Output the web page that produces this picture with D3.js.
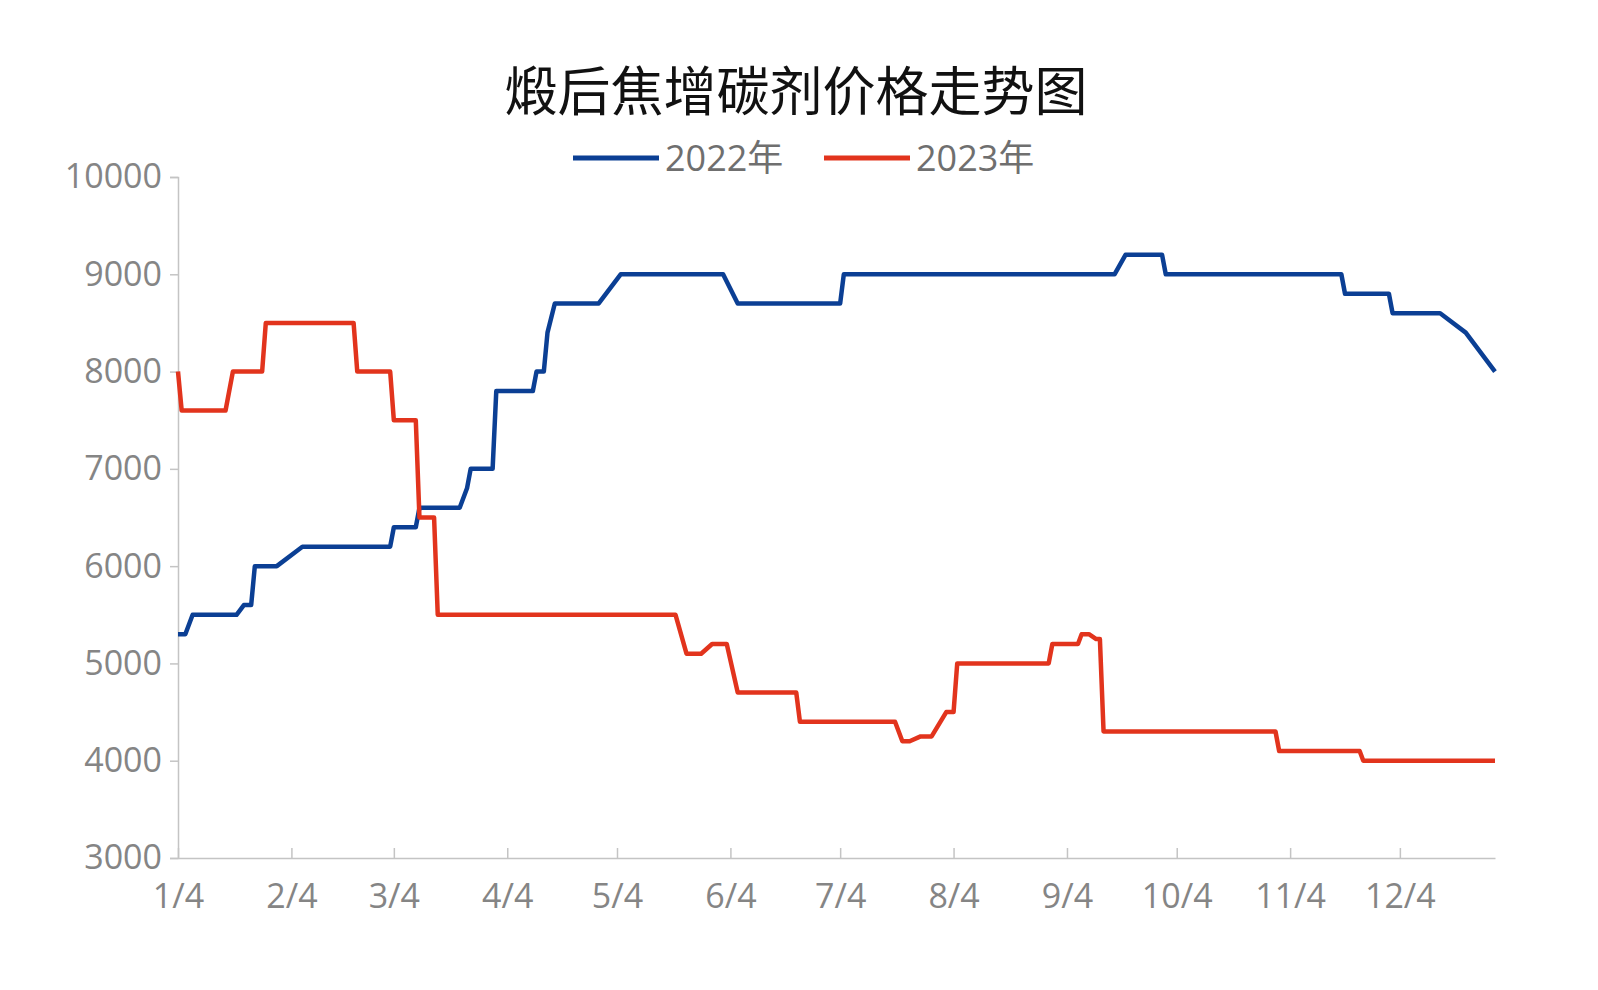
<!DOCTYPE html>
<html>
<head>
<meta charset="utf-8">
<script src="https://d3js.org/d3.v7.min.js"></script>
<style>
  body { margin: 0; background: #fff; }
  text { font-family: "Open Sans", "Noto Sans CJK SC", sans-serif; }
</style>
</head>
<body>
<script>
// 2022 series (plotted on common Jan-Dec axis)
var dates2022 = ["01-04","01-06","01-08","01-20","01-22","01-24","01-25","01-31","02-07","03-03","03-04","03-10","03-11","03-22","03-24","03-25","03-31","04-01","04-11","04-12","04-14","04-15","04-17","04-29","05-05","06-02","06-06","07-04","07-05","09-17","09-20","09-30","10-01","11-18","11-19","12-01","12-02","12-15","12-22","12-30"];
var values2022 = [5300,5300,5500,5500,5600,5600,6000,6000,6200,6200,6400,6400,6600,6600,6800,7000,7000,7800,7800,8000,8000,8400,8700,8700,9000,9000,8700,8700,9000,9000,9200,9200,9000,9000,8800,8800,8600,8600,8400,8000];
var dates2023 = ["01-04","01-05","01-17","01-19","01-27","01-28","02-21","02-22","03-03","03-04","03-10","03-11","03-15","03-16","05-20","05-23","05-27","05-30","06-03","06-06","06-22","06-23","07-19","07-21","07-23","07-26","07-29","08-02","08-04","08-05","08-30","08-31","09-07","09-08","09-10","09-12","09-13","09-14","10-31","11-01","11-23","11-24","12-30"];
var values2023 = [8000,7600,7600,8000,8000,8500,8500,8000,8000,7500,7500,6500,6500,5500,5500,5100,5100,5200,5200,4700,4700,4400,4400,4200,4200,4250,4250,4500,4500,5000,5000,5200,5200,5300,5300,5250,5250,4300,4300,4100,4100,4000,4000];
var xTicks = ["01-04","02-04","03-04","04-04","05-04","06-04","07-04","08-04","09-04","10-04","11-04","12-04"];
var yTicks = [3000,4000,5000,6000,7000,8000,9000,10000];
var seriesNames = ["2022年","2023年"];
var colors = ["#0b3f94","#e2341d"];

var parse = d3.timeParse("%Y-%m-%d");
function toDate(s) { return parse("2023-" + s); }

var W = 1598, H = 990;
var svg = d3.select("body").append("svg").attr("width", W).attr("height", H);

var x = d3.scaleTime().domain([toDate("01-04"), toDate("12-30")]).range([178, 1495]);
var y = d3.scaleLinear().domain([3000, 10000]).range([858, 177]);

svg.append("text").attr("x", 796).attr("y", 111).attr("text-anchor", "middle")
  .style("font-size", "53px").style("fill", "#111").text("煅后焦增碳剂价格走势图");

// legend
seriesNames.forEach(function(n, i) {
  var lx = 573 + i * 251;
  svg.append("line").attr("x1", lx).attr("x2", lx + 86).attr("y1", 158).attr("y2", 158)
    .attr("stroke", colors[i]).attr("stroke-width", 5);
  svg.append("text").attr("x", lx + 92).attr("y", 171).style("font-size", "36px")
    .style("fill", "#6f6f6f").text(n);
});

// axes
var yAxis = svg.append("g").attr("transform", "translate(178,0)")
  .call(d3.axisLeft(y).tickValues(yTicks).tickSize(8).tickPadding(8).tickFormat(d3.format("d")));
yAxis.selectAll("text").style("font-size", "34px").style("fill", "#858585");
yAxis.selectAll("line,path").attr("stroke", "#c4c4c4").attr("stroke-width", 1.5);

var xAxis = svg.append("g").attr("transform", "translate(0,858)")
  .call(d3.axisBottom(x).tickValues(xTicks.map(toDate)).tickSizeInner(-10).tickSizeOuter(0).tickPadding(26)
    .tickFormat(d3.timeFormat("%-m/%-d")));
xAxis.selectAll("text").style("font-size", "34px").style("fill", "#858585");
xAxis.selectAll("line,path").attr("stroke", "#c4c4c4").attr("stroke-width", 1.5);

var line = d3.line().x(function(d) { return x(d[0]); }).y(function(d) { return y(d[1]); });
[[dates2022, values2022], [dates2023, values2023]].forEach(function(s, i) {
  var pts = s[0].map(function(d, j) { return [toDate(d), s[1][j]]; });
  svg.append("path").datum(pts).attr("d", line).attr("fill", "none")
    .attr("stroke", colors[i]).attr("stroke-width", 4.5).attr("stroke-linejoin", "round");
});
</script>
</body>
</html>
